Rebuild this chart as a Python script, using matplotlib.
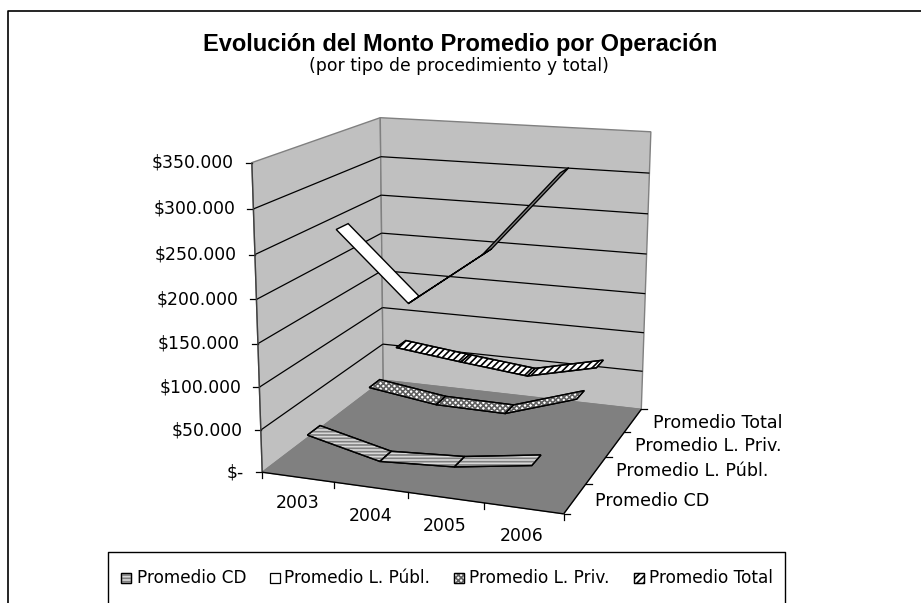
import numpy as np
import matplotlib
matplotlib.use("Agg")
import matplotlib.pyplot as plt
from matplotlib.patches import Polygon, Rectangle

years = ["2003", "2004", "2005", "2006"]
series = ["Promedio CD", "Promedio L. Públ.", "Promedio L. Priv.", "Promedio Total"]
promedio_cd = [40000, 20000, 25000, 38000]
promedio_publ = [257000, 178000, 241000, 338000]
promedio_priv = [41000, 29000, 28000, 56000]
promedio_total = [67000, 57000, 48000, 68000]
value_ticks = [0, 50000, 100000, 150000, 200000, 250000, 300000, 350000]
value_labels = ["$-", "$50.000", "$100.000", "$150.000", "$200.000", "$250.000", "$300.000", "$350.000"]
values = [promedio_cd, promedio_publ, promedio_priv, promedio_total]

VMAX = 350000
WALL = "#c0c0c0"
FLOOR = "#808080"
EDGE = "#808080"

# corners of the box, (x, depth, height) -> where they land on the picture
box = [(0, 0, 0), (1, 0, 0), (1, 1, 0), (0, 1, 0), (0, 0, 1), (0, 1, 1), (1, 1, 1)]
box_px = [(262.7, 472.7), (563, 514), (641.7, 409), (383, 380), (252, 162), (380, 118), (651, 132)]


def fit_camera(world, pix):
    rows, rhs = [], []
    for (x, y, z), (u, v) in zip(world, pix):
        rows.append([x, y, z, 1, 0, 0, 0, 0, -u * x, -u * y, -u * z])
        rows.append([0, 0, 0, 0, x, y, z, 1, -v * x, -v * y, -v * z])
        rhs += [u, v]
    sol = np.linalg.lstsq(np.array(rows), np.array(rhs), rcond=None)[0]
    return np.append(sol, 1).reshape(3, 4)


cam = fit_camera(box, box_px)


def proj(x, y, z):
    p = cam @ np.array([x, y, z, 1.0])
    return p[0] / p[2], p[1] / p[2]


def area(pts):
    a = 0
    for i in range(len(pts)):
        x0, y0 = pts[i]
        x1, y1 = pts[(i + 1) % len(pts)]
        a += x0 * y1 - x1 * y0
    return a / 2


def line3d(ax, a, b, **kw):
    p, q = proj(*a), proj(*b)
    ax.plot([p[0], q[0]], [p[1], q[1]], solid_capstyle="butt", **kw)


plt.rcParams["hatch.linewidth"] = 1.2
fig = plt.figure(figsize=(9.21, 6.03), dpi=100)
ax = fig.add_axes([0, 0, 1, 1])
ax.set_xlim(0, 921)
ax.set_ylim(603, 0)
ax.axis("off")

# chart border, only the top and left sides are inside the picture
ax.plot([7.5, 7.5, 921], [603, 11, 11], color="black", lw=1.2)

ax.text(460, 44, "Evolución del Monto Promedio por Operación", family="Liberation Sans",
        weight="bold", fontsize=17, ha="center", va="center")
ax.text(459, 66, "(por tipo de procedimiento y total)", family="DejaVu Sans",
        fontsize=12.4, ha="center", va="center")

# walls
left = [proj(0, 0, 0), proj(0, 1, 0), proj(0, 1, 1), proj(0, 0, 1)]
back = [proj(0, 1, 0), proj(1, 1, 0), proj(1, 1, 1), proj(0, 1, 1)]
ax.add_patch(Polygon(left, fc=WALL, ec=EDGE, lw=1))
ax.add_patch(Polygon(back, fc=WALL, ec=EDGE, lw=1))

# gridlines and value axis
for t, lab in zip(value_ticks, value_labels):
    z = t / VMAX
    if t > 0 and t < VMAX:
        line3d(ax, (0, 0, z), (0, 1, z), color="black", lw=0.9)
        line3d(ax, (0, 1, z), (1, 1, z), color="black", lw=0.9)
    p = proj(0, 0, z)
    ax.plot([p[0] - 6, p[0]], [p[1], p[1]], color="black", lw=0.9)
    ax.text(p[0] - 18, p[1], lab, family="DejaVu Sans", fontsize=12.4, ha="right", va="center")
line3d(ax, (0, 0, 0), (0, 0, 1), color="#404040", lw=1)

# floor
floor = [proj(0, 0, 0), proj(1, 0, 0), proj(1, 1, 0), proj(0, 1, 0)]
ax.add_patch(Polygon(floor, fc=FLOOR, ec=EDGE, lw=0.8))
line3d(ax, (0, 0, 0), (1, 0, 0), color="black", lw=1)
line3d(ax, (1, 0, 0), (1, 1, 0), color="black", lw=1)

# category and series ticks
for k in range(len(years) + 1):
    p = proj(k / len(years), 0, 0)
    ax.plot([p[0], p[0]], [p[1], p[1] + 6], color="black", lw=0.9)
for k in range(len(series) + 1):
    p = proj(1, k / len(series), 0)
    ax.plot([p[0], p[0] + 6], [p[1], p[1]], color="black", lw=0.9)

year_pos = [(298, 503), (371, 516), (445, 526), (522, 536)]
for lab, (x, y) in zip(years, year_pos):
    ax.text(x, y, lab, family="DejaVu Sans", fontsize=12.4, ha="center", va="center")
series_pos = [(595, 501), (616, 471.5), (635, 446), (652.5, 423)]
for lab, (x, y) in zip(series, series_pos):
    ax.text(x, y, lab, family="DejaVu Sans", fontsize=12.6, ha="left", va="center")

# ribbons, back to front
styles = [
    dict(fc="#d8d8d8", hatch="-----", hc="#808080"),
    dict(fc="white", hatch=None, hc="black"),
    dict(fc="white", hatch="xxxxxx", hc="#606060"),
    dict(fc="white", hatch="/////", hc="black"),
]
band = 0.38
for s in [3, 2, 1, 0]:
    y0 = (s + 0.5 - band / 2) / len(series)
    y1 = (s + 0.5 + band / 2) / len(series)
    for k in range(len(years) - 1):
        x0 = (k + 0.5) / len(years)
        x1 = (k + 1.5) / len(years)
        z0 = values[s][k] / VMAX
        z1 = values[s][k + 1] / VMAX
        pts = [proj(x0, y0, z0), proj(x1, y0, z1), proj(x1, y1, z1), proj(x0, y1, z0)]
        st = styles[s]
        if area(pts) > 0:
            # seen from below, shaded darker
            ax.add_patch(Polygon(pts, fc="#808080", ec="black", lw=1, zorder=3))
        else:
            ax.add_patch(Polygon(pts, fc=st["fc"], ec="black", lw=1, zorder=3))
            if st["hatch"]:
                ax.add_patch(Polygon(pts, fc="none", ec=st["hc"], hatch=st["hatch"], lw=0, zorder=3))
                ax.add_patch(Polygon(pts, fc="none", ec="black", lw=1, zorder=3))

# legend box, also cut off at the bottom
ax.plot([108, 108, 785, 785], [603, 552, 552, 603], color="black", lw=1)
legend_x = [121, 270, 454, 634]
legend_text_x = [136.5, 284, 469, 649]
for st, lab, x, tx in zip(styles, series, legend_x, legend_text_x):
    ax.add_patch(Rectangle((x, 573), 10, 10, fc=st["fc"], ec="black", lw=0.9))
    if st["hatch"]:
        ax.add_patch(Rectangle((x, 573), 10, 10, fc="none", ec=st["hc"], hatch=st["hatch"], lw=0))
        ax.add_patch(Rectangle((x, 573), 10, 10, fc="none", ec="black", lw=0.9))
    ax.text(tx, 578, lab, family="DejaVu Sans", fontsize=12.2, ha="left", va="center")

fig.savefig("out.png", dpi=100)
